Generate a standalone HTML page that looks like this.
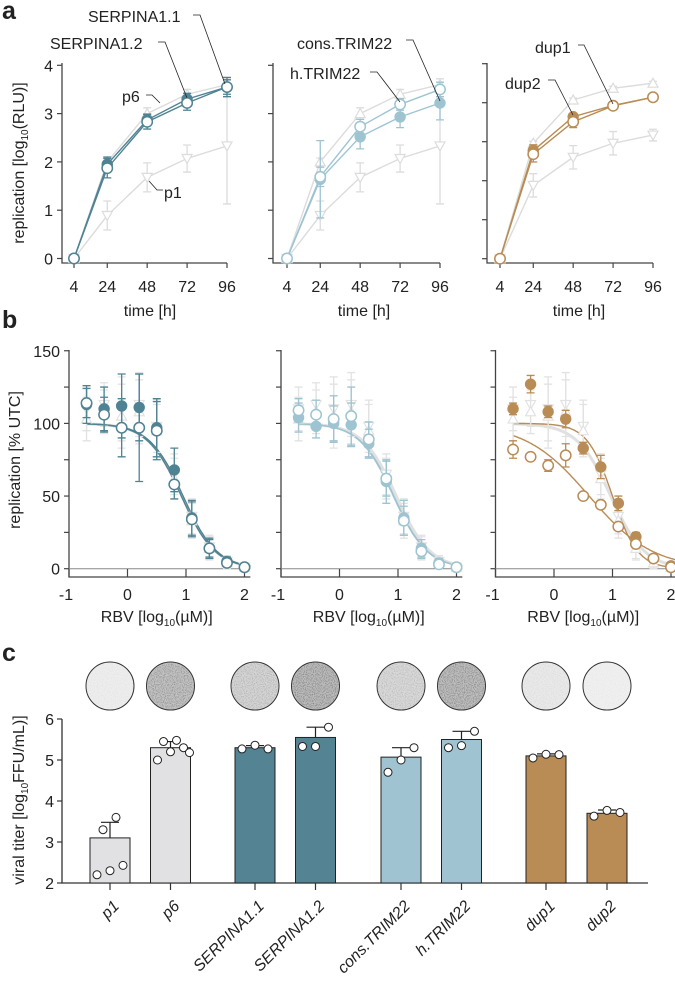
<!DOCTYPE html>
<html><head><meta charset="utf-8">
<style>
html,body{margin:0;padding:0;background:#fff;}
svg{display:block;font-family:"Liberation Sans",Arial,sans-serif;}
</style></head>
<body>
<svg id="fig" width="675" height="988" viewBox="0 0 675 988" xmlns="http://www.w3.org/2000/svg">
<defs>
<filter id="speck" x="0" y="0" width="1" height="1">
<feTurbulence type="fractalNoise" baseFrequency="0.9" numOctaves="1" seed="3" result="n"/>
<feColorMatrix in="n" type="matrix" values="0 0 0 0 0  0 0 0 0 0  0 0 0 0 0  0 0 0 -2.2 1.3" result="m"/>
<feComposite in="m" in2="SourceGraphic" operator="in"/>
</filter>
</defs>
<g id="gA"></g>
<g id="gB"></g>
<g id="gC"></g>
</svg>
<script>
// ===== Panel a data =====
const timesA = [4, 24, 48, 72, 96];
const p1Vals = [0, 0.89, 1.68, 2.07, 2.33];
const p1Err = [0, 0.3, 0.3, 0.28, 1.2];
const p6Vals = [0, 2.0, 3.0, 3.4, 3.6];
const p6Err = [0, 0.08, 0.12, 0.1, 0.12];
const serp11Vals = [0, 1.95, 2.87, 3.3, 3.55];
const serp11Err = [0, 0.15, 0.12, 0.12, 0.15];
const serp12Vals = [0, 1.87, 2.83, 3.22, 3.55];
const serp12Err = [0, 0.2, 0.15, 0.15, 0.2];
const consVals = [0, 1.69, 2.73, 3.19, 3.5];
const consErr = [0, 0.2, 0.15, 0.12, 0.15];
const hVals = [0, 1.64, 2.52, 2.93, 3.22];
const hErr = [0, 0.8, 0.25, 0.22, 0.35];
// panel a, chart 3 (own scale)
const p1Vals3 = [0, 1.88, 2.6, 2.96, 3.17];
const p1Err3 = [0, 0.3, 0.3, 0.3, 0.15];
const p6Vals3 = [0, 2.96, 4.07, 4.37, 4.5];
const p6Err3 = [0, 0.05, 0.05, 0.05, 0.05];
const dup1Vals = [0, 2.77, 3.64, 3.93, 4.14];
const dup1Err = [0, 0.15, 0.08, 0.05, 0.08];
const dup2Vals = [0, 2.68, 3.51, 3.92, 4.14];
const dup2Err = [0, 0.2, 0.15, 0.05, 0.05];
const yTicksA = [0, 1, 2, 3, 4];
const yTicksA3 = [0, 1, 2, 3, 4, 5];

// ===== Panel b data =====
const dosesB = [-0.7, -0.4, -0.1, 0.2, 0.5, 0.8, 1.1, 1.4, 1.7, 2.0];
const grayUpB = [103, 108, 105, 108, 95, 62, 33, 14, 4, 1];
const grayDnB = [110, 113, 110, 113, 98, 65, 36, 15, 5, 1];
const grayErrB = [15, 15, 22, 22, 18, 14, 12, 8, 4, 3];
const serp11B = [113, 110, 112, 111, 97, 68, 35, 14, 5, 1];
const serp11BErr = [13, 15, 22, 23, 20, 15, 12, 7, 3, 1];
const serp12B = [114, 106, 97, 97, 95, 58, 34, 14, 4, 1];
const serp12BErr = [10, 12, 20, 37, 20, 10, 12, 6, 2, 1];
const hB = [104, 98, 100, 99, 86, 60, 35, 14, 4, 1];
const hBErr = [10, 8, 12, 15, 10, 15, 12, 6, 3, 1];
const consB = [109, 106, 103, 105, 89, 62, 33, 12, 3, 1];
const consBErr = [8, 10, 16, 20, 12, 12, 10, 5, 2, 1];
const dup1B = [110, 127, 108, 103, 83, 70, 45, 22, 7, 2];
const dup1BErr = [4, 6, 4, 6, 4, 8, 5, 3, 2, 1];
const dup2B = [82, 77, 71, 78, 50, 44, 29, 17, 7, 1];
const dup2BErr = [6, 2, 4, 8, 2, 2, 2, 2, 2, 1];
const fitIC50 = [0.95, 0.92, 0.97, 0.93, 1.0, 0.6];   // log10 µM
const fitHill = [1.5, 1.5, 1.5, 1.5, 2.0, 0.8];
const yTicksB = [0, 50, 100, 150];
const xTicksB = [-1, 0, 1, 2];

// ===== Panel c data =====
const groupsC = ["p1", "p6", "SERPINA1.1", "SERPINA1.2", "cons.TRIM22", "h.TRIM22", "dup1", "dup2"];
const meansC = [3.1, 5.3, 5.3, 5.55, 5.07, 5.5, 5.1, 3.7];
const sdC = [0.38, 0.15, 0.05, 0.25, 0.23, 0.2, 0.05, 0.08];
const pointsC = [[2.2, 2.3, 2.43, 3.3, 3.6], [5.0, 5.2, 5.3, 5.45, 5.48, 5.18], [5.27, 5.36, 5.27], [5.33, 5.33, 5.8], [4.7, 5.0, 5.3], [5.3, 5.35, 5.7], [5.05, 5.14, 5.13], [3.63, 3.77, 3.72]];
const wellShadeC = [0.08, 0.55, 0.35, 0.62, 0.3, 0.6, 0.12, 0.06];
const yTicksC = [2, 3, 4, 5, 6];

// ===== helpers =====
const NS = "http://www.w3.org/2000/svg";
const TEAL = "#4f8393", LBLUE = "#9ec4d2", TAN = "#b98c55", GRAY = "#dcdcdc";
const FS = 16;
function mk(tag, attrs, parent) {
  const e = document.createElementNS(NS, tag);
  for (const k in attrs) e.setAttribute(k, attrs[k]);
  parent.appendChild(e);
  return e;
}
function txt(parent, x, y, s, size, anchor, extra) {
  const t = mk("text", Object.assign({x: x, y: y, "font-size": size, "text-anchor": anchor || "middle", fill: "#222"}, extra || {}), parent);
  t.textContent = s;
  return t;
}
const gA = document.getElementById("gA"), gB = document.getElementById("gB"), gC = document.getElementById("gC");

function errbar(g, x, y1, y2, col) {
  const e = mk("path", {d: `M${x},${y1}V${y2}M${x-4},${y1}H${x+4}M${x-4},${y2}H${x+4}`, stroke: col, "stroke-width": 1.3, fill: "none"}, g);
  
  
}
function marker(g, x, y, type, col) {
  let m;
  if (type === "filled") m = mk("circle", {cx: x, cy: y, r: 5.2, fill: col, stroke: col, "stroke-width": 1}, g);
  else if (type === "open") m = mk("circle", {cx: x, cy: y, r: 5.2, fill: "#fff", stroke: col, "stroke-width": 1.5}, g);
  else if (type === "tridown") m = mk("path", {d: `M${x-5},${y-4}L${x+5},${y-4}L${x},${y+5}Z`, fill: "#fff", stroke: col, "stroke-width": 1.2}, g);
  else m = mk("path", {d: `M${x-5},${y+4}L${x+5},${y+4}L${x},${y-5}Z`, fill: "#fff", stroke: col, "stroke-width": 1.2}, g);
  
  
}

// ===== Panel a =====
function panelA(idx, axX, x4, y0, unit, ticks, showLabels, series) {
  const g = mk("g", {}, gA);
  
  
  const xs = t => x4 + (t - 4) * (153 / 92);
  const ys = v => y0 - v * unit;
  const ax = mk("path", {d: `M${axX},63V263H${xs(96)}`, stroke: "#444", "stroke-width": 1.3, fill: "none"}, g);
  
  
  ticks.forEach(v => {
    mk("line", {x1: axX - 5, x2: axX, y1: ys(v), y2: ys(v), stroke: "#444", "stroke-width": 1.2}, g);
    if (showLabels) {
      const l = txt(g, axX - 9, ys(v) + 6, String(v), FS, "end");
      
      
    }
  });
  timesA.forEach(t => {
    mk("line", {x1: xs(t), x2: xs(t), y1: 263, y2: 268, stroke: "#444", "stroke-width": 1.2}, g);
    const l = txt(g, xs(t), 292, String(t), FS);
    
    
  });
  const xt = txt(g, [143, 357, 572][idx] + 7, 316, "time [h]", FS);
  
  
  series.forEach(s => {
    const sg = mk("g", {}, g);
    
    
    const pts = timesA.map((t, i) => [xs(t), ys(s.vals[i])]);
    const ln = mk("polyline", {points: pts.map(p => p.join(",")).join(" "), fill: "none", stroke: s.col, "stroke-width": 1.4}, sg);
    
    timesA.forEach((t, i) => { if (s.err[i] > 0) errbar(sg, xs(t), ys(s.vals[i] + s.err[i]), ys(s.vals[i] - s.err[i]), s.col); });
    pts.forEach(p => marker(sg, p[0], p[1], s.type, s.col));
  });
}
panelA(0, 62, 74, 258.5, 48.3, yTicksA, true, [
  {name: "p1", vals: p1Vals, err: p1Err, col: GRAY, type: "tridown"},
  {name: "p6", vals: p6Vals, err: p6Err, col: GRAY, type: "triup"},
  {name: "serpina1-1", vals: serp11Vals, err: serp11Err, col: TEAL, type: "filled"},
  {name: "serpina1-2", vals: serp12Vals, err: serp12Err, col: TEAL, type: "open"}]);
panelA(1, 273, 287, 258.5, 48.3, yTicksA, false, [
  {name: "p1", vals: p1Vals, err: p1Err, col: GRAY, type: "tridown"},
  {name: "p6", vals: p6Vals, err: p6Err, col: GRAY, type: "triup"},
  {name: "h-trim22", vals: hVals, err: hErr, col: LBLUE, type: "filled"},
  {name: "cons-trim22", vals: consVals, err: consErr, col: LBLUE, type: "open"}]);
panelA(2, 487, 500, 258.7, 39, yTicksA3, false, [
  {name: "p1", vals: p1Vals3, err: p1Err3, col: GRAY, type: "tridown"},
  {name: "p6", vals: p6Vals3, err: p6Err3, col: GRAY, type: "triup"},
  {name: "dup1", vals: dup1Vals, err: dup1Err, col: TAN, type: "filled"},
  {name: "dup2", vals: dup2Vals, err: dup2Err, col: TAN, type: "open"}]);
// annotations panel a
[["SERPINA1.1", 88, 22, "M193,15H200L225,84"], ["SERPINA1.2", 50, 49, "M158,42H165L187,98"],
 ["p6", 122, 102, "M146,95H152L160,103"], ["p1", 164, 198, "M163,190H157L149,181"],
 ["cons.TRIM22", 297, 49, "M406,40H413L440,101"], ["h.TRIM22", 290, 79, "M370,72H377L400,102"],
 ["dup1", 535, 53, "M578,45H584L613,104"], ["dup2", 505, 89, "M548,80H555L573,115"]].forEach(a => {
  const t = txt(gA, a[1], a[2], a[0], FS, "start");
  
  
  const p = mk("path", {d: a[3], stroke: "#222", "stroke-width": 0.8, fill: "none"}, gA);
  
  
});
{
  const yt = mk("text", {x: 0, y: 0, "font-size": FS, "text-anchor": "middle", fill: "#222", transform: "translate(24,163) rotate(-90)"}, gA);
  yt.innerHTML = 'replication [log<tspan font-size="10" dy="4">10</tspan><tspan dy="-4">(RLU)]</tspan>';
  
  
  const la = txt(gA, 2, 19, "a", 25, "start", {"font-weight": "bold"});
  
  
}

// ===== Panel b =====
function hill(x, ic, h) { return 100 / (1 + Math.pow(10, (x - ic) * h)); }
function panelB(idx, axX, showLabels, series, fits) {
  const g = mk("g", {}, gB);
  
  
  const xs = v => axX + (v + 1) * 58.5;
  const ys = v => 568.7 - v * 1.453;
  const xEnd = Math.min(xs(2.1), 675);
  const ax = mk("path", {d: `M${axX},350V577H${xEnd}`, stroke: "#444", "stroke-width": 1.3, fill: "none"}, g);
  
  
  mk("line", {x1: axX, x2: xEnd, y1: ys(0), y2: ys(0), stroke: "#888", "stroke-width": 1}, g);
  [0, 25, 50, 75, 100, 125, 150].forEach(v => mk("line", {x1: axX - 5, x2: axX, y1: ys(v), y2: ys(v), stroke: "#444", "stroke-width": 1.2}, g));
  if (showLabels) yTicksB.forEach(v => {
    const l = txt(g, axX - 9, ys(v) + 6, String(v), FS, "end");
    
    
  });
  xTicksB.forEach(v => {
    mk("line", {x1: xs(v), x2: xs(v), y1: 577, y2: 569, stroke: "#444", "stroke-width": 1.2}, g);
    const l = txt(g, xs(v) - (v < 0 ? 3 : 0), 600, String(v), FS);
    
    
  });
  const xt = mk("text", {x: xs(0.5), y: 622, "font-size": FS, "text-anchor": "middle", fill: "#222"}, g);
  xt.innerHTML = 'RBV [log<tspan font-size="10" dy="4">10</tspan><tspan dy="-4">(µM)]</tspan>';
  
  
  fits.forEach(f => {
    let d = "";
    for (let x = -0.7; x <= 2.1001; x += 0.02) d += (d ? "L" : "M") + xs(x).toFixed(1) + "," + ys(hill(x, fitIC50[f.k], fitHill[f.k])).toFixed(1);
    const c = mk("path", {d: d, fill: "none", stroke: f.col, "stroke-width": f.w || 1.4}, g);
    
    
  });
  series.forEach(s => {
    const sg = mk("g", {}, g);
    
    
    dosesB.forEach((d, i) => errbar(sg, xs(d), ys(s.vals[i] + s.err[i]), ys(s.vals[i] - s.err[i]), s.col));
    dosesB.forEach((d, i) => marker(sg, xs(d), ys(s.vals[i]), s.type, s.col));
  });
}
const grayS = [{name: "p1", vals: grayDnB, err: grayErrB, col: "#e2e2e2", type: "tridown"},
               {name: "p6", vals: grayUpB, err: grayErrB, col: "#e2e2e2", type: "triup"}];
panelB(0, 69, true, grayS.concat([
  {name: "serpina1-1", vals: serp11B, err: serp11BErr, col: TEAL, type: "filled"},
  {name: "serpina1-2", vals: serp12B, err: serp12BErr, col: TEAL, type: "open"}]),
  [{k: 3, col: "#e0e0e0", w: 3}, {k: 0, col: TEAL}, {k: 1, col: TEAL}]);
panelB(1, 281, false, grayS.concat([
  {name: "h-trim22", vals: hB, err: hBErr, col: LBLUE, type: "filled"},
  {name: "cons-trim22", vals: consB, err: consBErr, col: LBLUE, type: "open"}]),
  [{k: 2, col: "#e0e0e0", w: 3}, {k: 3, col: LBLUE}, {k: 1, col: LBLUE}]);
panelB(2, 495.5, false, grayS.concat([
  {name: "dup1", vals: dup1B, err: dup1BErr, col: TAN, type: "filled"},
  {name: "dup2", vals: dup2B, err: dup2BErr, col: TAN, type: "open"}]),
  [{k: 2, col: "#e0e0e0", w: 3}, {k: 4, col: TAN}, {k: 5, col: TAN}]);
{
  const yt = mk("text", {x: 0, y: 0, "font-size": FS, "text-anchor": "middle", fill: "#222", transform: "translate(20,460) rotate(-90)"}, gB);
  yt.textContent = "replication [% UTC]";
  
  
  const lb = txt(gB, 2, 328, "b", 25, "start", {"font-weight": "bold"});
  
  
}

// ===== Panel c =====
{
  const xC = [110, 170.5, 255, 315.5, 401, 461.5, 546, 607];
  const colC = ["#e1e1e3", "#e1e1e3", "#548393", "#548393", "#9fc3d1", "#9fc3d1", "#b98c55", "#b98c55"];
  const ys = v => 883 - (v - 2) * 41;
  const ax = mk("path", {d: "M62,719V883H648", stroke: "#333", "stroke-width": 1.3, fill: "none"}, gC);
  
  
  yTicksC.forEach(v => {
    mk("line", {x1: 57, x2: 62, y1: ys(v), y2: ys(v), stroke: "#333", "stroke-width": 1.2}, gC);
    const l = txt(gC, 54, ys(v) + 6, String(v), FS, "end");
    
    
  });
  groupsC.forEach((name, i) => {
    const x = xC[i];
    const bg = mk("g", {}, gC);
    
    
    const shade = Math.round(245 - wellShadeC[i] * 90);
    const w = mk("circle", {cx: x, cy: 686, r: 24, fill: `rgb(${shade},${shade},${shade})`, stroke: "#333", "stroke-width": 1}, bg);
    
    
    const sp = mk("circle", {cx: x, cy: 686, r: 23, fill: "#000", opacity: (wellShadeC[i] * 0.6).toFixed(2), filter: "url(#speck)"}, bg);
    
    
    const top = ys(meansC[i] + sdC[i]);
    const eb = mk("path", {d: `M${x},${ys(meansC[i])}V${top}M${x-9},${top}H${x+9}`, stroke: "#222", "stroke-width": 1.2, fill: "none"}, bg);
    
    
    const b = mk("rect", {x: x - 20, y: ys(meansC[i]), width: 40, height: 883 - ys(meansC[i]), fill: colC[i], stroke: "#222", "stroke-width": 1}, bg);
    
    
    const n = pointsC[i].length;
    pointsC[i].forEach((v, j) => {
      const dx = n === 3 ? (j - 1) * 13 : ((j % 3) - 1) * 13 + (j >= 3 ? 6 : 0);
      const d = mk("circle", {cx: x + dx, cy: ys(v), r: 4, fill: "#fff", stroke: "#222", "stroke-width": 1}, bg);
      
      
    });
    mk("line", {x1: x, x2: x, y1: 883, y2: 890, stroke: "#333", "stroke-width": 1.2}, bg);
    const l = txt(bg, 0, 0, name, FS, "end", {transform: `translate(${x + 10},${907}) rotate(-45)`, "font-style": "italic"});
    
    
  });
  const yt = mk("text", {x: 0, y: 0, "font-size": FS, "text-anchor": "middle", fill: "#222", transform: "translate(24,800) rotate(-90)"}, gC);
  yt.innerHTML = 'viral titer [log<tspan font-size="10" dy="4">10</tspan><tspan dy="-4">FFU/mL)]</tspan>';
  
  
  const lc = txt(gC, 2, 661, "c", 25, "start", {"font-weight": "bold"});
  
  
}
</script>
</body></html>
